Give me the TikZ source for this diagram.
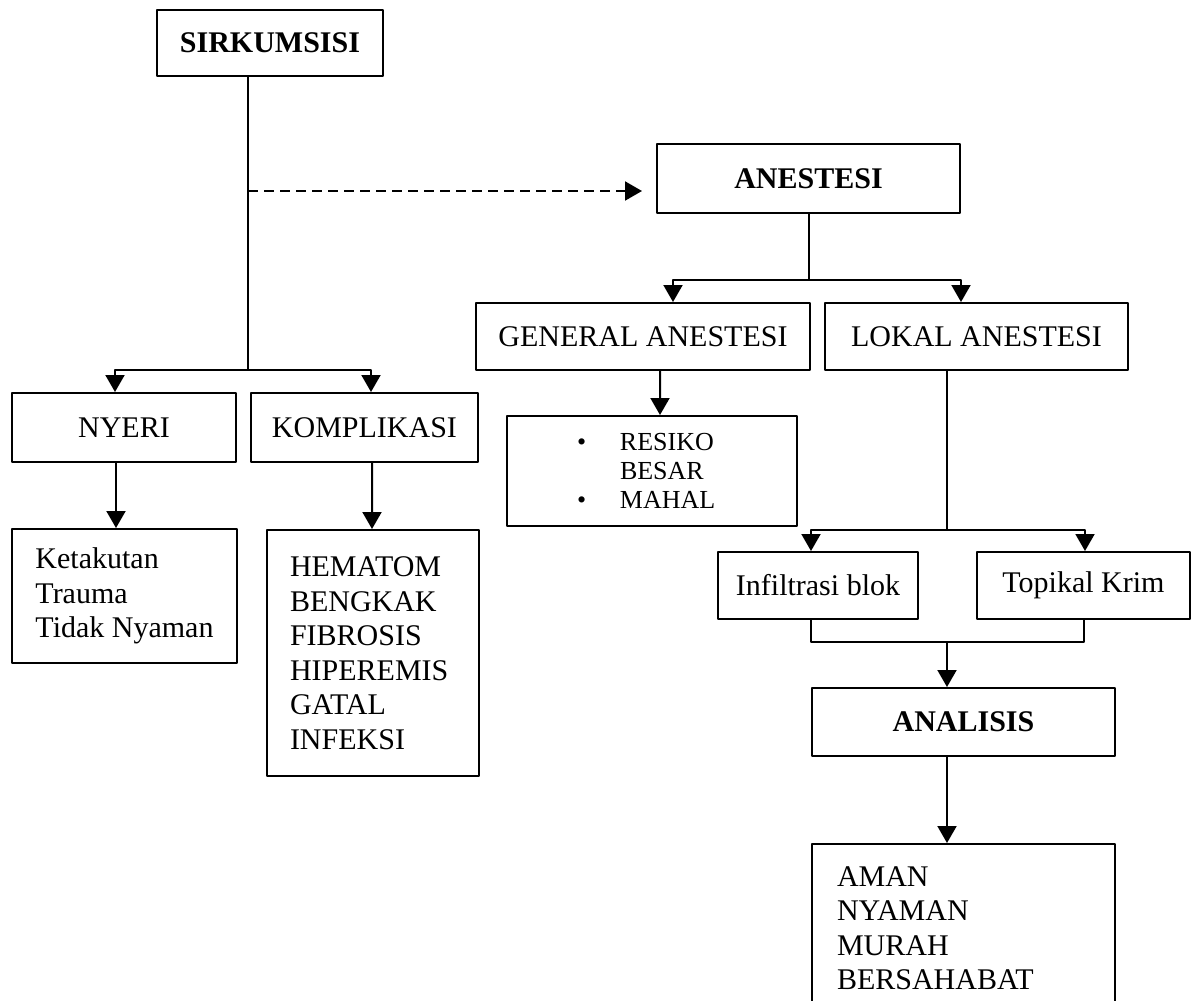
\documentclass[tikz,border=0pt]{standalone}
\usepackage{fontspec}
\setmainfont{Liberation Serif}
\usepackage{tikz}
\usetikzlibrary{arrows.meta}

\begin{document}
\begin{tikzpicture}[x=1bp,y=-1bp,>={Triangle[width=19bp,length=17bp]},line width=2bp,line join=bevel,
  plainbox/.style={draw,inner sep=0pt,font=\fontsize{30bp}{34.5bp}\selectfont},
  headbox/.style={plainbox,font=\fontsize{30bp}{34.5bp}\selectfont\bfseries},
  listbox/.style={plainbox,align=left,inner xsep=23bp},
  dashline/.style={dash pattern=on 10bp off 6bp}]
\useasboundingbox (0,0) rectangle (1193,1001);
%%
\node (sirk) at (270,43) [headbox,minimum width=226bp,minimum height=66bp] {SIRKUMSISI};
  \node (anest) at (808.5,178.5) [headbox,minimum width=303bp,minimum height=69bp] {ANESTESI};
  \node (nyeri) at (124,427.5) [plainbox,minimum width=224bp,minimum height=69bp] {NYERI};
  \node (kompl) at (364.5,427.5) [plainbox,minimum width=227bp,minimum height=69bp] {KOMPLIKASI};
  \node (ketak) at (124.5,596) [plainbox,align=left,minimum width=225bp,minimum height=134bp] {Ketakutan\\Trauma\\Tidak Nyaman};
  \node (hemat) at (373,653) [listbox,text width=166bp,minimum height=246bp] {HEMATOM\\BENGKAK\\FIBROSIS\\HIPEREMIS\\GATAL\\INFEKSI};
  \node (gen) at (643,336.5) [plainbox,minimum width=334bp,minimum height=67bp] {GENERAL ANESTESI};
  \node (lok) at (976.5,336.5) [plainbox,minimum width=303bp,minimum height=67bp] {LOKAL ANESTESI};
  \node (bul) at (652,471) [plainbox,align=left,inner xsep=70bp,text width=150bp,minimum height=110bp,
    font=\fontsize{26bp}{29bp}\selectfont] {\makebox[43bp][l]{\textbullet}RESIKO\\\hspace*{43bp}BESAR\\\makebox[43bp][l]{\textbullet}MAHAL};
  \node (inf) at (818,585.5) [plainbox,minimum width=200bp,minimum height=67bp] {Infiltrasi blok};
  \node (top) at (1083.5,585.5) [plainbox,minimum width=213bp,minimum height=67bp] {Topikal Krim};
  \node (ana) at (963.5,722) [headbox,minimum width=303bp,minimum height=68bp] {ANALISIS};
  \node (aman) at (963.5,928) [listbox,inner xsep=25bp,text width=253bp,minimum height=168bp] {AMAN\\NYAMAN\\MURAH\\BERSAHABAT};
%%
\coordinate (sb) at (248,370);
  \coordinate (sd) at (248,191);
  \coordinate (dtip) at (642,191);
  \coordinate (ab) at (808.5,280);
  \coordinate (lb) at (947,530);
  \coordinate (mb) at (947,642);
  \draw (sirk.south -| sb) -- (sb);
  \draw [dashline,->] (sd) -- (dtip);
  \draw [->] (sb) -| ([xshift=-9bp]nyeri.north);
  \draw [->] (sb) -| ([xshift=6.5bp]kompl.north);
  \draw [->] ([xshift=-8bp]nyeri.south) -- ([xshift=-8.5bp]ketak.north);
  \draw [->] ([xshift=7.5bp]kompl.south) -- ([xshift=-1bp]hemat.north);
  \draw (anest) -- (ab);
  \draw [->] (ab) -| ([xshift=30bp]gen.north);
  \draw [->] (ab) -| ([xshift=-15.5bp]lok.north);
  \draw [->] ([xshift=17bp]gen.south) -- ([xshift=8bp]bul.north);
  \draw (lok.south -| lb) -- (lb);
  \draw [->] (lb) -| ([xshift=-7bp]inf.north);
  \draw [->] (lb) -| ([xshift=1.5bp]top.north);
  \draw ([xshift=-7bp]inf.south) |- (mb) -| ([xshift=0.5bp]top.south);
  \draw [->] (mb) -- (mb |- ana.north);
  \draw [->] (ana.south -| mb) -- (mb |- aman.north);
%
\end{tikzpicture}
\end{document}
